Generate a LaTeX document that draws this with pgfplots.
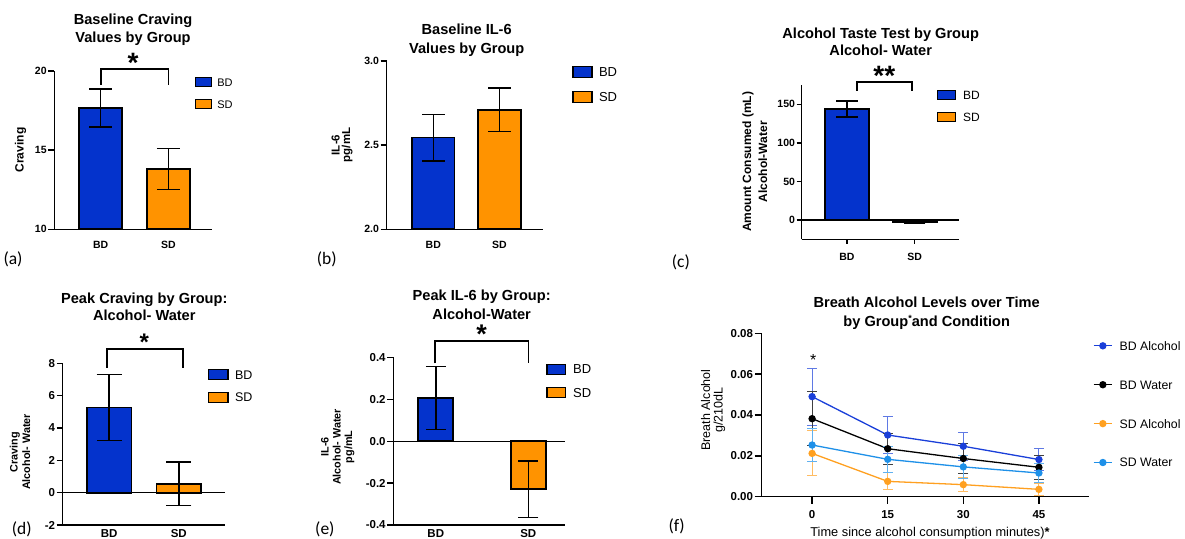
\documentclass[border=0pt]{standalone}
\usepackage{pgfplots}
\pgfplotsset{compat=1.18}
\usepackage{fontspec}
\setmainfont{Liberation Sans}
\newfontfamily\calfont{Carlito}
\definecolor{bdblue}{HTML}{0433CC}
\definecolor{sdorange}{HTML}{FF9300}
\definecolor{lblue}{HTML}{1A3FD9}
\definecolor{lorange}{HTML}{FFA020}
\definecolor{lsky}{HTML}{1E90E8}
\newcommand{\fs}[2]{\fontsize{#1}{#2}\selectfont}
\newcommand{\TT}[4]{\node[anchor=base, inner sep=0pt, font=#1] at (#2pt,{(538-#3)*1pt}) {#4};}
\newcommand{\RR}[4]{\node[anchor=base, rotate=90, inner sep=0pt, font=#1] at (#2pt,{(538-#3)*1pt}) {#4};}
\newcommand{\PL}[3]{\node[anchor=base west, inner sep=0pt, font=\calfont\fs{17.5}{18}] at (#1pt,{(538-#2)*1pt}) {#3};}
% bracket: x1, x2, ytop, yend1, yend2 (pixels from top)
\newcommand{\BR}[5]{\draw[line width=1.6pt] (#1pt,{(538-#4)*1pt}) -- (#1pt,{(538-#3)*1pt}) -- (#2pt,{(538-#3)*1pt}) -- (#2pt,{(538-#5)*1pt});}
% y tick: axis x, tick y, length ; x tick: tick x, axis y, length
\newcommand{\YT}[3]{\draw[line width=1.3pt] (#1pt,{(538-#2)*1pt}) -- ++(-#3pt,0pt);}
\newcommand{\XT}[3]{\draw[line width=1.3pt] (#1pt,{(538-#2)*1pt}) -- ++(0pt,-#3pt);}
\newcommand{\legbox}[3]{\addlegendimage{legend image code/.code={\draw[fill=#1,draw=black,line width=1.3pt] (0pt,-#3) rectangle (#2,#3);}}}

\pgfplotsset{
  panel/.style={
    scale only axis,
    axis x line*=bottom, axis y line*=left,
    axis line style={line width=1.3pt, black},
    every tick/.style={draw=black, line width=1.3pt},
    major tick length=6pt,
    tick align=outside,
    xtick pos=left, ytick pos=left,
    /pgf/number format/assume math mode=true,
    yticklabel style={inner sep=0pt, xshift=-1.5pt},
    xticklabel style={anchor=base, inner sep=0pt},
  },
  barpanel/.style={panel, ybar,
    xtick={0,1}, xticklabels={BD,SD},
    major x tick style={draw=none},
    legend style={draw=none, fill=none, inner sep=0pt, anchor=north west,
      cells={anchor=west}, nodes={inner sep=0pt, text depth=0pt}},
  },
  bdbar/.style={fill=bdblue, draw=black, line width=1.8pt, bar shift=0pt},
  sdbar/.style={fill=sdorange, draw=black, line width=1.8pt, bar shift=0pt},
  errb/.style={error bars/.cd, y dir=both, y explicit,
    error bar style={line width=1.5pt, black},
    error mark=|, error mark options={line width=1.5pt, black, mark size=#1}},
  lerr/.style={error bars/.cd, y dir=both, y explicit,
    error bar style={line width=1pt, #1},
    error mark=|, error mark options={line width=1pt, #1, mark size=5pt}},
}

\begin{document}
\begin{tikzpicture}
\useasboundingbox (0pt,0pt) rectangle (1185pt,538pt);

% ---------------- (a)
\begin{axis}[barpanel, at={(54.3pt,308.7pt)}, anchor=south west, width=157.4pt, height=158.3pt,
  xmin=-0.686, xmax=1.642, ymin=10, ymax=20, ytick={10,15,20}, bar width=0.64,
  yticklabel style={font=\bfseries\fs{10.5}{12}},
  xticklabel style={font=\bfseries\fs{10.5}{12}, yshift=-13.4pt},
  legend style={at={(0.8898,0.9631)}, font=\fs{11}{13}, row sep=11.7pt, column sep=5.5pt, nodes={text height=8pt}}]
\legbox{bdblue}{16pt}{4.5pt}\addlegendentry{BD}
\legbox{sdorange}{16pt}{4.5pt}\addlegendentry{SD}
\addplot[bdbar, forget plot, errb=11.3pt] coordinates {(0,17.65) +- (0,1.2)};
\addplot[sdbar, forget plot, errb=11.3pt] coordinates {(1,13.8) +- (0,1.3)};
\end{axis}

% ---------------- (b)
\begin{axis}[barpanel, at={(386.7pt,308.7pt)}, anchor=south west, width=156.3pt, height=168.3pt,
  xmin=-0.704, xmax=1.657, ymin=2, ymax=3, ytick={2,2.5,3}, bar width=0.64,
  yticklabel style={font=\bfseries\fs{10.5}{12}, /pgf/number format/fixed, /pgf/number format/fixed zerofill, /pgf/number format/precision=1},
  xticklabel style={font=\bfseries\fs{10.5}{12}, yshift=-13.4pt},
  legend style={at={(1.1859,0.9712)}, font=\fs{13}{15}, row sep=12.7pt, column sep=6.5pt, nodes={text height=9.3pt}}]
\legbox{bdblue}{19pt}{5.5pt}\addlegendentry{BD}
\legbox{sdorange}{19pt}{5.5pt}\addlegendentry{SD}
\addplot[bdbar, forget plot, errb=11.3pt] coordinates {(0,2.545) +- (0,0.138)};
\addplot[sdbar, forget plot, errb=11.3pt] coordinates {(1,2.71) +- (0,0.13)};
\end{axis}

% ---------------- (c)
\begin{axis}[barpanel, at={(801.7pt,298.7pt)}, anchor=south west, width=157.6pt, height=154.3pt,
  xmin=-0.669, xmax=1.659, ymin=-25, ymax=175, ytick={0,50,100,150}, bar width=0.65,
  major tick length=5pt,
  yticklabel style={font=\bfseries\fs{10.5}{12}},
  xticklabel style={font=\bfseries\fs{10.5}{12}, yshift=-16pt},
  legend style={at={(0.8563,0.9686)}, font=\fs{12}{14}, row sep=11.4pt, column sep=7.3pt, nodes={text height=8.6pt}}]
\legbox{bdblue}{17.7pt}{4.5pt}\addlegendentry{BD}
\legbox{sdorange}{17.7pt}{4.5pt}\addlegendentry{SD}
\addplot[bdbar, forget plot, errb=10.8pt] coordinates {(0,144) +- (0,10.2)};
\addplot[sdbar, forget plot, errb=10.8pt] coordinates {(1,-3) +- (0,1.5)};
\draw[line width=1.3pt] (axis cs:-0.669,0) -- (axis cs:1.659,0);
\end{axis}

% ---------------- (d)
\begin{axis}[barpanel, at={(62.7pt,13pt)}, anchor=south west, width=162.3pt, height=161.7pt,
  xmin=-0.668, xmax=1.664, ymin=-2, ymax=8, ytick={-2,0,2,4,6,8}, bar width=0.64,
  yticklabel style={font=\bfseries\fs{11.5}{13}},
  xticklabel style={font=\bfseries\fs{11.5}{13}, yshift=-6.4pt},
  legend style={at={(0.8931,0.9669)}, font=\fs{12.5}{14}, row sep=11.4pt, column sep=6.6pt, nodes={text height=9pt}}]
\legbox{bdblue}{19.4pt}{5pt}\addlegendentry{BD}
\legbox{sdorange}{19.4pt}{5pt}\addlegendentry{SD}
\addplot[bdbar, forget plot, errb=12.5pt] coordinates {(0,5.27) +- (0,2.03)};
\addplot[sdbar, forget plot, errb=12.5pt] coordinates {(1,0.55) +- (0,1.35)};
\draw[line width=1.3pt] (axis cs:-0.668,0) -- (axis cs:1.664,0);
\end{axis}

% ---------------- (e)
\begin{axis}[barpanel, at={(393.3pt,13pt)}, anchor=south west, width=171.7pt, height=167.7pt,
  xmin=-0.459, xmax=1.397, ymin=-0.4, ymax=0.4, ytick={-0.4,-0.2,0,0.2,0.4}, bar width=0.38,
  yticklabel style={font=\bfseries\fs{11.5}{13}, /pgf/number format/fixed, /pgf/number format/fixed zerofill, /pgf/number format/precision=1},
  xticklabel style={font=\bfseries\fs{11.5}{13}, yshift=-6.4pt},
  legend style={at={(0.8896,0.9639)}, font=\fs{13}{15}, row sep=12pt, column sep=7.3pt, nodes={text height=9.3pt}}]
\legbox{bdblue}{18.3pt}{5pt}\addlegendentry{BD}
\legbox{sdorange}{18.3pt}{5pt}\addlegendentry{SD}
\addplot[bdbar, forget plot, errb=10pt] coordinates {(0,0.206) +- (0,0.15)};
\addplot[sdbar, forget plot, errb=10pt] coordinates {(1,-0.23) +- (0,0.135)};
\draw[line width=1.3pt] (axis cs:-0.459,0) -- (axis cs:1.397,0);
\end{axis}

% ---------------- (f)
\begin{axis}[panel, at={(761.7pt,41.3pt)}, anchor=south west, width=327.6pt, height=163.4pt,
  xmin=-10, xmax=55, ymin=0, ymax=0.08, xtick={0,15,30,45}, ytick={0,0.02,0.04,0.06,0.08},
  major tick length=7pt, scaled y ticks=false, clip=false,
  yticklabel style={font=\bfseries\fs{11.5}{13}, /pgf/number format/fixed, /pgf/number format/fixed zerofill, /pgf/number format/precision=2},
  xticklabel style={font=\bfseries\fs{11.5}{13}, yshift=-14.7pt},
  legend style={draw=none, fill=none, inner sep=0pt, anchor=north west, at={(1.0107,0.9516)},
    font=\fs{12.3}{14}, row sep=30.1pt, column sep=7pt, cells={anchor=west},
    nodes={inner sep=0pt, text height=8.8pt, text depth=0pt}},
  legend image code/.code={\draw[mark repeat=2, mark phase=2, #1] plot coordinates {(0pt,0pt) (9.2pt,0pt) (18.4pt,0pt)};}]
\addplot[color=lblue, line width=1.3pt, mark=*, mark size=3pt, lerr=lblue!70!white] coordinates {
 (0,0.049) +- (0,0.014) (15,0.0302) +- (0,0.009) (30,0.0247) +- (0,0.0068) (45,0.0182) +- (0,0.0054)};
\addlegendentry{BD Alcohol}
\addplot[color=black, line width=1.3pt, mark=*, mark size=3pt, lerr=black!75!white] coordinates {
 (0,0.0382) +- (0,0.0133) (15,0.0235) +- (0,0.0075) (30,0.0187) +- (0,0.0072) (45,0.0144) +- (0,0.006)};
\addlegendentry{BD Water}
\addplot[color=lorange, line width=1.3pt, mark=*, mark size=3pt, lerr=lorange!70!white] coordinates {
 (0,0.0212) +- (0,0.011) (15,0.0075) +- (0,0.0042) (30,0.0059) +- (0,0.0035) (45,0.0036) +- (0,0.003)};
\addlegendentry{SD Alcohol}
\addplot[color=lsky, line width=1.3pt, mark=*, mark size=3pt, lerr=lsky!70!white] coordinates {
 (0,0.0253) +- (0,0.0082) (15,0.0183) +- (0,0.0065) (30,0.0146) +- (0,0.0055) (45,0.0116) +- (0,0.0045)};
\addlegendentry{SD Water}
\end{axis}

% ---------------- tick marks (axis decoration)
\YT{54.3}{229.3}{6}\YT{54.3}{150.15}{6}\YT{54.3}{71}{6}
\YT{386.7}{229.3}{6}\YT{386.7}{145.15}{6}\YT{386.7}{61}{6}
\YT{801.7}{220}{5}\YT{801.7}{181.4}{5}\YT{801.7}{142.9}{5}\YT{801.7}{104.3}{5}
\XT{847}{239.3}{5}\XT{914.7}{239.3}{5}
\YT{62.7}{525}{6}\YT{62.7}{492.66}{6}\YT{62.7}{460.3}{6}\YT{62.7}{428}{6}\YT{62.7}{395.6}{6}\YT{62.7}{363.3}{6}
\YT{393.3}{525}{6}\YT{393.3}{483.1}{6}\YT{393.3}{441.2}{6}\YT{393.3}{399.2}{6}\YT{393.3}{357.3}{6}
\YT{761.7}{496.7}{7}\YT{761.7}{455.85}{7}\YT{761.7}{415}{7}\YT{761.7}{374.15}{7}\YT{761.7}{333.3}{7}
\XT{812.1}{496.7}{7}\XT{887.7}{496.7}{7}\XT{963.3}{496.7}{7}\XT{1038.9}{496.7}{7}

% ---------------- significance brackets
\BR{100.7}{168.3}{69.3}{85}{85}
\BR{856.7}{911.7}{82.3}{90.7}{90.7}
\BR{106.7}{182.7}{349}{367.7}{367.7}
\BR{435}{528.3}{341}{363.3}{362.7}

% ---------------- titles
\TT{\bfseries\fs{14.6}{17}}{133}{24.2}{Baseline Craving}
\TT{\bfseries\fs{14.6}{17}}{133}{42.2}{Values by Group}
\TT{\bfseries\fs{14.6}{17}}{466.7}{34.2}{Baseline IL-6}
\TT{\bfseries\fs{14.6}{17}}{466.7}{53.2}{Values by Group}
\TT{\bfseries\fs{14.6}{17}}{880.7}{38.2}{Alcohol Taste Test by Group}
\TT{\bfseries\fs{14.6}{17}}{880.7}{55.2}{Alcohol- Water}
\TT{\bfseries\fs{14.6}{17}}{144.3}{303.5}{Peak Craving by Group:}
\TT{\bfseries\fs{14.6}{17}}{144.3}{320.9}{Alcohol- Water}
\TT{\bfseries\fs{14.6}{17}}{481.7}{300.2}{Peak IL-6 by Group:}
\TT{\bfseries\fs{14.6}{17}}{481.7}{319.5}{Alcohol-Water}
\TT{\bfseries\fs{14.6}{17}}{926.7}{307.9}{Breath Alcohol Levels over Time}
\TT{\bfseries\fs{14.6}{17}}{926.7}{326.9}{by Group\raisebox{0.35em}{\fs{9}{9}*}and Condition}

% ---------------- significance stars
\TT{\bfseries\fs{28}{28}}{133}{72.5}{*}
\TT{\bfseries\fs{28}{28}}{884.3}{86}{**}
\TT{\bfseries\fs{24}{24}}{144.3}{350.5}{*}
\TT{\bfseries\fs{27}{27}}{481.7}{344}{*}
\TT{\fs{16}{16}}{813.3}{365.2}{*}

% ---------------- y labels
\RR{\bfseries\fs{12}{14}}{23.7}{150}{Craving}
\RR{\bfseries\fs{11.5}{13}}{339.5}{145}{IL-6}
\RR{\bfseries\fs{11.5}{13}}{350}{145}{pg/mL}
\RR{\bfseries\fs{12}{14}}{751}{161.7}{Amount Consumed (mL)}
\RR{\bfseries\fs{12}{14}}{767}{161.7}{Alcohol-Water}
\RR{\bfseries\fs{10.8}{13}}{17.5}{452}{Craving}
\RR{\bfseries\fs{10.8}{13}}{30}{452}{Alcohol- Water}
\RR{\bfseries\fs{10.8}{13}}{328.5}{447}{IL-6}
\RR{\bfseries\fs{10.8}{13}}{340.5}{447}{Alcohol- Water}
\RR{\bfseries\fs{10.8}{13}}{352}{447}{pg/mL}
\RR{\fs{12.5}{14}}{710}{410}{Breath Alcohol}
\RR{\fs{12.5}{14}}{722.5}{410}{g/210dL}
\TT{\fs{12.8}{14}}{930}{536.3}{Time since alcohol consumption minutes)\textbf{*}}

% ---------------- panel letters
\PL{3.3}{265}{(a)}
\PL{316.7}{265}{(b)}
\PL{671.7}{267.5}{(c)}
\PL{11.7}{534}{(d)}
\PL{315}{534}{(e)}
\PL{668.3}{531.7}{(f)}
\end{tikzpicture}
\end{document}
